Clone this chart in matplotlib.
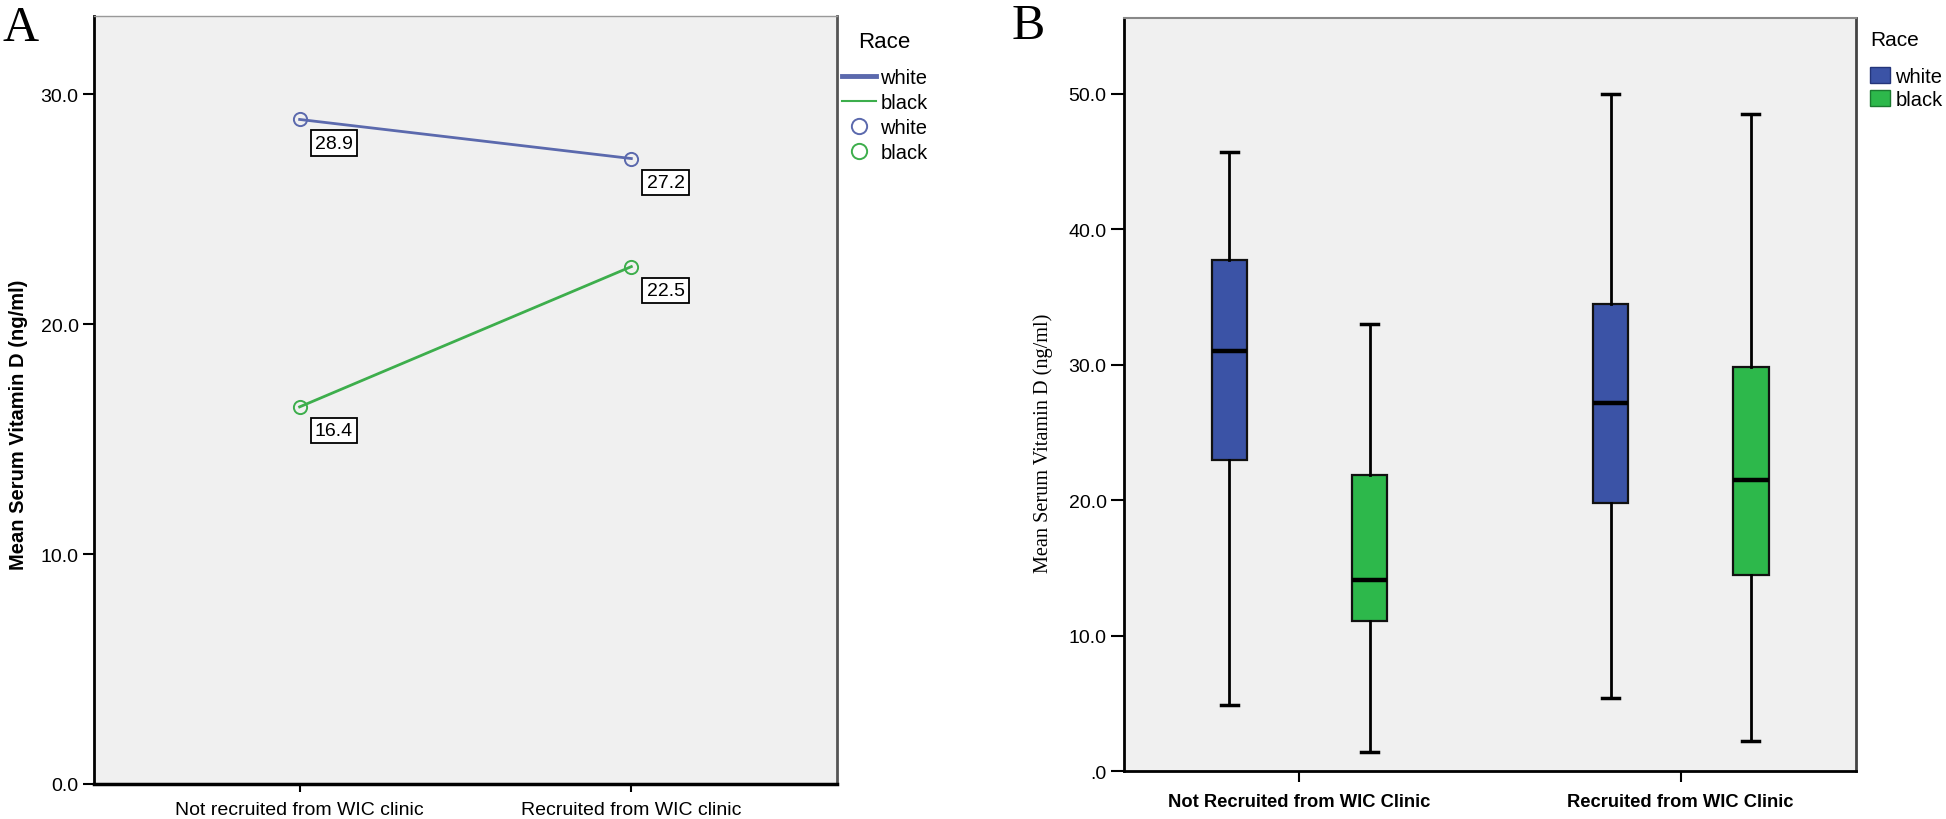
import matplotlib.pyplot as plt
from matplotlib.lines import Line2D
from matplotlib.patches import Patch
from matplotlib.transforms import ScaledTranslation

plt.rcParams['font.family'] = ['Liberation Sans', 'DejaVu Sans']

# Panel A: medias por grupo
categorias_a = ['Not recruited from WIC clinic', 'Recruited from WIC clinic']
medias_white = [28.9, 27.2]
medias_black = [16.4, 22.5]
ticks_a = [0, 10, 20, 30]
ticks_a_txt = ['0.0', '10.0', '20.0', '30.0']

# Panel B: cajas (whisker bajo, Q1, mediana, Q3, whisker alto)
categorias_b = ['Not Recruited from WIC Clinic', 'Recruited from WIC Clinic']
white_low = [4.9, 5.4]
white_q1 = [23.0, 19.8]
white_med = [31.0, 27.2]
white_q3 = [37.7, 34.5]
white_high = [45.7, 50.0]
black_low = [1.4, 2.2]
black_q1 = [11.1, 14.5]
black_med = [14.1, 21.5]
black_q3 = [21.85, 29.85]
black_high = [33.0, 48.5]
ticks_b = [0, 10, 20, 30, 40, 50]
ticks_b_txt = ['.0', '10.0', '20.0', '30.0', '40.0', '50.0']

azul_a = '#5b69ad'
verde_a = '#3dae4c'
azul_b = '#3b53a6'
verde_b = '#2db84b'
fondo = '#f0f0f0'

fig = plt.figure(figsize=(19.46, 8.2), dpi=100)

# ---------- Panel A ----------
ax1 = fig.add_axes([0.0483, 0.0427, 0.3818, 0.9366])
ax1.set_facecolor(fondo)
x = range(len(categorias_a))
ax1.plot(x, medias_white, color=azul_a, lw=2, marker='o', ms=9.5, mfc='none', mew=1.4)
ax1.plot(x, medias_black, color=verde_a, lw=2, marker='o', ms=9.5, mfc='none', mew=1.4)
for serie in (medias_white, medias_black):
    for xi, v in zip(x, serie):
        ax1.annotate(f'{v:.1f}', (xi, v), xytext=(11, -11), textcoords='offset points',
                     ha='left', va='top', fontsize=14,
                     bbox=dict(boxstyle='square,pad=0.22', fc='white', ec='black', lw=1.3))
ax1.set_xlim(-0.62, 1.62)
ax1.set_ylim(0, 33.4)
ax1.set_xticks(list(x))
ax1.set_xticklabels(categorias_a, fontsize=14)
ax1.set_yticks(ticks_a)
ax1.set_yticklabels(ticks_a_txt, fontsize=14)
ax1.tick_params(axis='y', length=8, width=1.5, pad=3)
ax1.tick_params(axis='x', length=6, width=1.5, pad=6)
ax1.set_ylabel('Mean Serum Vitamin D (ng/ml)', fontsize=14.5, fontweight='bold')
ax1.yaxis.set_label_coords(-0.089, 0.469)
ax1.spines['left'].set_linewidth(2)
ax1.spines['bottom'].set_linewidth(2.5)
ax1.spines['top'].set_color('#999999')
ax1.spines['top'].set_linewidth(1)
ax1.spines['right'].set_color('#555555')
ax1.spines['right'].set_linewidth(2)

handles_a = [Line2D([], [], color=azul_a, lw=3.5),
             Line2D([], [], color=verde_a, lw=1.5),
             Line2D([], [], color=azul_a, lw=0, marker='o', ms=11, mfc='none', mew=1.4),
             Line2D([], [], color=verde_a, lw=0, marker='o', ms=11, mfc='none', mew=1.4)]
ax1.legend(handles_a, ['white', 'black', 'white', 'black'],
           loc='upper left', bbox_to_anchor=(1.0, 0.939), frameon=False,
           fontsize=14.5, handlelength=1.7, handletextpad=0.2, labelspacing=0.3,
           borderaxespad=0, borderpad=0.25)
fig.text(858 / 1946, 1 - 43 / 820, 'Race', fontsize=16, va='center')
fig.text(0.0015, 0.95, 'A', family='Liberation Serif', fontsize=36, va='baseline')

# ---------- Panel B ----------
ax2 = fig.add_axes([0.5776, 0.0585, 0.3762, 0.9183])
ax2.set_facecolor(fondo)
desp = 0.184
ancho = 0.093
for i in range(len(categorias_b)):
    stats = [dict(whislo=white_low[i], q1=white_q1[i], med=white_med[i],
                  q3=white_q3[i], whishi=white_high[i], fliers=[]),
             dict(whislo=black_low[i], q1=black_q1[i], med=black_med[i],
                  q3=black_q3[i], whishi=black_high[i], fliers=[])]
    cajas = ax2.bxp(stats, positions=[i - desp, i + desp], widths=ancho,
                    patch_artist=True, showfliers=False, capwidths=0.045,
                    medianprops=dict(color='black', lw=3.2),
                    whiskerprops=dict(color='black', lw=2),
                    capprops=dict(color='black', lw=2.5),
                    boxprops=dict(lw=1.6))
    cajas['boxes'][0].set(facecolor=azul_b, edgecolor='#111111')
    cajas['boxes'][1].set(facecolor=verde_b, edgecolor='#111111')
ax2.set_xlim(-0.46, 1.46)
ax2.set_ylim(0, 55.6)
ax2.set_xticks([0, 1])
ax2.set_xticklabels(categorias_b, fontsize=13.2, fontweight='bold')
desplaza = ScaledTranslation(0.44, 0, fig.dpi_scale_trans)
for etiqueta in ax2.get_xticklabels():
    etiqueta.set_transform(etiqueta.get_transform() + desplaza)
ax2.set_yticks(ticks_b)
ax2.set_yticklabels(ticks_b_txt, fontsize=14)
ax2.tick_params(axis='y', length=9.5, width=1.5, pad=3)
ax2.tick_params(axis='x', length=8, width=1.5, pad=8)
ax2.set_ylabel('Mean Serum Vitamin D (ng/ml)', family='Liberation Serif', fontsize=14.6)
ax2.yaxis.set_label_coords(-0.097, 0.437)
for lado in ['left', 'bottom']:
    ax2.spines[lado].set_linewidth(2)
ax2.spines['top'].set_color('#888888')
ax2.spines['top'].set_linewidth(1.5)
ax2.spines['right'].set_color('#444444')
ax2.spines['right'].set_linewidth(2)

handles_b = [Patch(facecolor=azul_b, edgecolor='#24357a'),
             Patch(facecolor=verde_b, edgecolor='#1b7a30')]
ax2.legend(handles_b, ['white', 'black'], loc='upper left',
           bbox_to_anchor=(1.0, 0.954), frameon=False, fontsize=14.5,
           handlelength=1.0, handleheight=0.85, handletextpad=0.25,
           labelspacing=0.2, borderaxespad=0, borderpad=0.7)
fig.text(1870 / 1946, 1 - 40 / 820, 'Race', fontsize=15, va='center')
fig.text(0.52, 0.952, 'B', family='Liberation Serif', fontsize=36, va='baseline')

fig.savefig('out.png', dpi=100)
